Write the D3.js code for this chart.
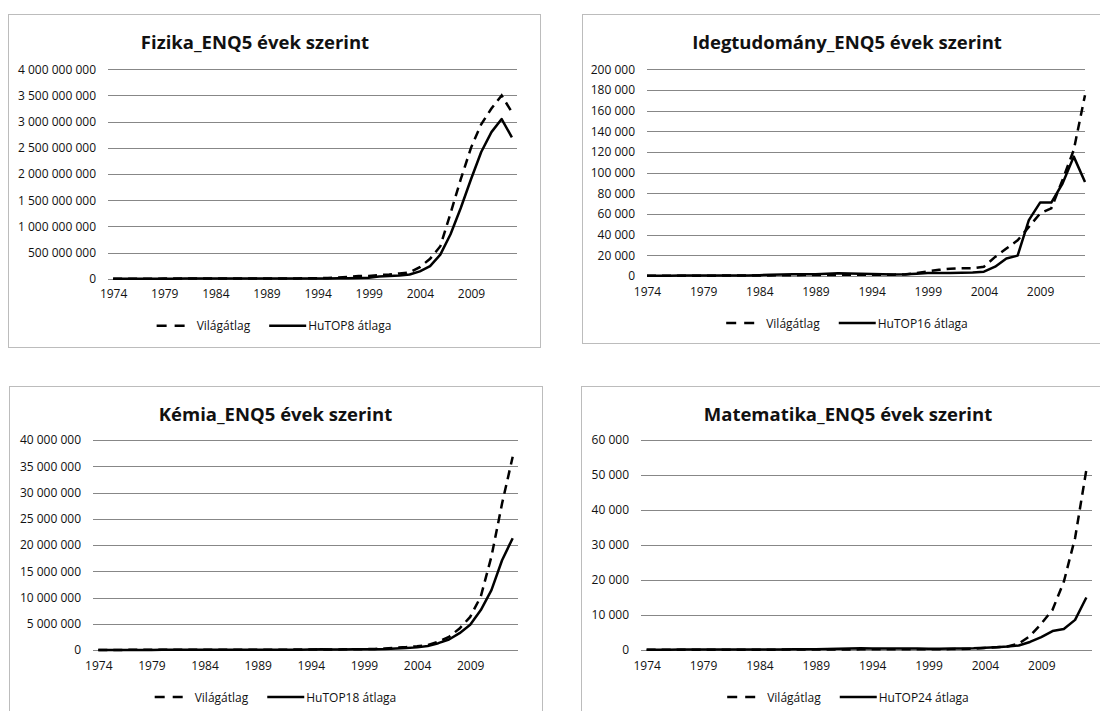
<!DOCTYPE html>
<html>
<head>
<meta charset="utf-8">
<script src="https://cdn.jsdelivr.net/npm/d3@7"></script>
<style>
    body { margin: 0; background: #fff; }
    text { font-family: 'Open Sans', sans-serif; fill: #111; }
</style>
</head>
<body>
<div id="chart"></div>
<script>
    var width = 1100,
        height = 711;

    // years 1974..2013, labels every 5th year
    var years = d3.range(1974, 2014);
    var yearTicks = [1974, 1979, 1984, 1989, 1994, 1999, 2004, 2009];
    var legendNames = ['Világátlag', 'HuTOP8 átlaga', 'HuTOP16 átlaga', 'HuTOP18 átlaga', 'HuTOP24 átlaga'];

    // Fizika
    var fizikaVilag = [1e6, 1e6, 1e6, 1e6, 1e6, 1.5e6, 1.5e6, 1.5e6, 2e6, 2e6, 2e6, 2.5e6, 2.5e6, 3e6, 3e6, 3.5e6, 4e6,
        5e6, 6e6, 8e6, 1e7, 1.5e7, 2.5e7, 3.5e7, 5e7, 5e7, 7e7, 8e7, 1e8, 1.2e8,
        2.2e8, 3.8e8, 6.2e8, 1.25e9, 1.9e9, 2.5e9, 2.95e9, 3.25e9, 3.5e9, 3.18e9];
    var fizikaHu = [1e6, 1e6, 1e6, 1e6, 1e6, 1e6, 1e6, 1.5e6, 1.5e6, 1.5e6, 2e6, 2e6, 2e6, 2.5e6, 2.5e6, 3e6, 3e6,
        3.5e6, 4e6, 4e6, 5e6, 5e6, 8e6, 1e7, 1.5e7, 2e7, 4e7, 5e7, 6e7, 8e7,
        1.4e8, 2.4e8, 4.6e8, 8.5e8, 1.35e9, 1.9e9, 2.42e9, 2.8e9, 3.05e9, 2.7e9];

    // Idegtudomány
    var idegVilag = [200, 200, 250, 300, 300, 350, 350, 400, 400, 450, 500, 600, 700, 800, 900, 1000, 1000,
        1100, 1100, 1100, 1200, 1200, 1300, 1500, 2800, 4500, 6000, 7000, 7500, 7500,
        9000, 18500, 26500, 34500, 47500, 60500, 65500, 93000, 122000, 175000];
    var idegHu = [300, 300, 300, 400, 400, 400, 400, 500, 500, 600, 800, 1200, 1400, 1600, 1700, 1800, 2200,
        2600, 2300, 2200, 2000, 1800, 1500, 1600, 2200, 2800, 3000, 3000, 3100, 3300,
        4200, 9000, 17000, 19700, 54000, 71000, 71000, 89500, 115500, 91000];

    // Kémia
    var kemiaVilag = [2e4, 2e4, 2e4, 2.5e4, 2.5e4, 3e4, 3e4, 3e4, 3.5e4, 3.5e4, 4e4, 4e4, 4.5e4, 5e4, 5e4, 5.5e4, 6e4,
        6e4, 7e4, 8e4, 9e4, 1e5, 1.1e5, 1.2e5, 1.3e5, 1.5e5, 2e5, 3e5, 4.5e5, 5.5e5,
        7e5, 9.5e5, 1.6e6, 2.5e6, 4.1e6, 6.3e6, 1.02e7, 1.78e7, 2.79e7, 3.68e7];
    var kemiaHu = [1.5e4, 1.5e4, 1.5e4, 2e4, 2e4, 2e4, 2.5e4, 2.5e4, 3e4, 3e4, 3e4, 3.5e4, 3.5e4, 4e4, 4e4, 4.5e4, 5e4,
        5e4, 6e4, 7e4, 8e4, 1.2e5, 1.1e5, 1.1e5, 1.2e5, 1.2e5, 1.5e5, 2e5, 3e5, 4e5,
        5e5, 7.7e5, 1.3e6, 2.0e6, 3.2e6, 4.8e6, 7.6e6, 1.14e7, 1.71e7, 2.13e7];

    // Matematika
    var matekVilag = [50, 50, 60, 60, 70, 70, 80, 80, 90, 90, 100, 100, 110, 120, 130, 150, 150,
        160, 170, 180, 180, 190, 190, 200, 200, 200, 200, 250, 300, 400,
        600, 800, 1000, 1800, 4000, 7500, 11500, 19500, 32000, 51500];
    var matekHu = [100, 100, 100, 110, 110, 120, 120, 130, 130, 140, 150, 150, 150, 200, 200, 250, 300,
        350, 400, 500, 450, 450, 450, 400, 400, 350, 350, 400, 450, 500,
        650, 800, 1000, 1300, 2300, 3700, 5400, 6000, 8600, 15000];

    var panels = [
        {title: 'Fizika_ENQ5 évek szerint', hu: legendNames[1], vilag: fizikaVilag, top: fizikaHu, titleX: 255,
         box: [8, 14, 532, 333], plot: [108, 517, 69.3, 278.7], between: true, ymax: 4e9, ystep: 5e8},
        {title: 'Idegtudomány_ENQ5 évek szerint', hu: legendNames[2], vilag: idegVilag, top: idegHu,
         box: [582, 14, 530, 329], plot: [647, 1085, 69.3, 276], between: false, ymax: 2e5, ystep: 2e4},
        {title: 'Kémia_ENQ5 évek szerint', hu: legendNames[3], vilag: kemiaVilag, top: kemiaHu,
         box: [9, 386, 533, 340], plot: [93, 518, 440, 650], between: true, ymax: 4e7, ystep: 5e6},
        {title: 'Matematika_ENQ5 évek szerint', hu: legendNames[4], vilag: matekVilag, top: matekHu,
         box: [581, 386, 534, 340], plot: [641, 1092, 440, 650], between: true, ymax: 6e4, ystep: 1e4}
    ];

    var huFormat = d3.formatLocale({decimal: ',', thousands: '\u00a0', grouping: [3], currency: ['', '']}).format(',');

    var svg = d3.select('#chart')
        .append('svg')
        .attr('width', width)
        .attr('height', height);

    panels.forEach(function(p){
        var g = svg.append('g');
        var left = p.plot[0], right = p.plot[1], top = p.plot[2], bottom = p.plot[3];

        g.append('rect')
            .attr('x', p.box[0] + 0.5)
            .attr('y', p.box[1] + 0.5)
            .attr('width', p.box[2])
            .attr('height', p.box[3])
            .attr('fill', '#fff')
            .attr('stroke', '#bcbcbc')
            .attr('stroke-width', 1);

        var cx = p.box[0] + p.box[2] / 2;

        g.append('text')
            .attr('x', p.titleX || cx)
            .attr('y', p.box[1] + 27)
            .attr('text-anchor', 'middle')
            .attr('dominant-baseline', 'central')
            .style('font-size', '18.5px')
            .style('font-weight', 'bold')
            .text(p.title);

        var x = d3.scalePoint()
            .domain(years)
            .range([left, right])
            .padding(p.between ? 0.5 : 0);

        var y = d3.scaleLinear()
            .domain([0, p.ymax])
            .range([bottom, top]);

        var yticks = d3.range(0, p.ymax + p.ystep / 2, p.ystep);

        var yAxis = g.append('g')
            .attr('transform', 'translate(' + left + ',0)')
            .call(d3.axisLeft(y).tickValues(yticks).tickSize(-(right - left)).tickPadding(12).tickFormat(huFormat));
        yAxis.select('.domain').remove();
        yAxis.selectAll('line').attr('stroke', '#878787').attr('shape-rendering', 'crispEdges');
        yAxis.selectAll('text').style('font-size', '12px').attr('fill', '#111').style('font-family', "'Open Sans', sans-serif");

        var xAxis = g.append('g')
            .attr('transform', 'translate(0,' + bottom + ')')
            .call(d3.axisBottom(x).tickValues(yearTicks).tickSize(0).tickPadding(11));
        xAxis.select('.domain').remove();
        xAxis.selectAll('text').style('font-size', '12px').attr('fill', '#111').style('font-family', "'Open Sans', sans-serif");

        var line = d3.line()
            .x(function(d, i){ return x(years[i]); })
            .y(function(d){ return y(d); });

        g.append('path')
            .attr('d', line(p.top))
            .attr('fill', 'none')
            .attr('stroke', '#000')
            .attr('stroke-width', 2.5)
            .attr('stroke-linejoin', 'round');

        g.append('path')
            .attr('d', line(p.vilag))
            .attr('fill', 'none')
            .attr('stroke', '#000')
            .attr('stroke-width', 2.5)
            .attr('stroke-dasharray', '9,6');

        // legend, centred under the plot box
        var ly = bottom + 47;
        var leg = g.append('g');
        var t1 = leg.append('text')
            .attr('dominant-baseline', 'central')
            .attr('y', ly)
            .style('font-size', '12px')
            .text(legendNames[0]);
        var t2 = leg.append('text')
            .attr('dominant-baseline', 'central')
            .attr('y', ly)
            .style('font-size', '12px')
            .text(p.hu);
        var w1 = t1.node().getComputedTextLength(),
            w2 = t2.node().getComputedTextLength();
        var total = 28 + 12 + w1 + 19 + 37 + 2 + w2;
        var lx = cx - total / 2;

        leg.append('line')
            .attr('x1', lx).attr('x2', lx + 28)
            .attr('y1', ly).attr('y2', ly)
            .attr('stroke', '#000').attr('stroke-width', 2.5)
            .attr('stroke-dasharray', '10,8');
        t1.attr('x', lx + 40);
        var sx = lx + 40 + w1 + 19;
        leg.append('line')
            .attr('x1', sx).attr('x2', sx + 37)
            .attr('y1', ly).attr('y2', ly)
            .attr('stroke', '#000').attr('stroke-width', 2.5);
        t2.attr('x', sx + 39);
    });
</script>
</body>
</html>
